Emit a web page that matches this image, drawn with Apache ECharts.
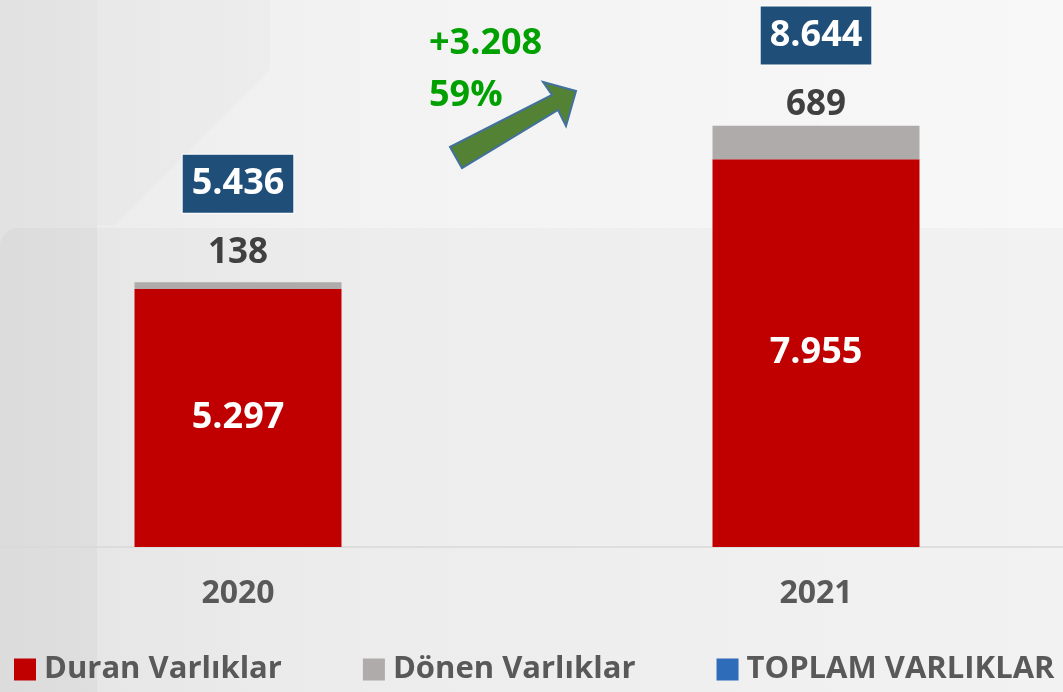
<!DOCTYPE html>
<html>
<head>
<meta charset="utf-8">
<script src="https://cdn.jsdelivr.net/npm/echarts@6/dist/echarts.min.js"></script>
<style>
  html, body { margin: 0; padding: 0; }
  #chart { width: 1063px; height: 692px; }
</style>
</head>
<body>
<div id="chart"></div>
<script>
  // veriler
  var years = ['2020', '2021'];
  var duran = [5297, 7955];
  var donen = [138, 689];
  var toplam = [5436, 8644];
  var seriesNames = ['Duran Varlıklar', 'Dönen Varlıklar', 'TOPLAM VARLIKLAR'];

  var FONT = '"Open Sans", "Noto Sans", sans-serif';

  function fmt(n) {
    return String(n).replace(/\B(?=(\d{3})+(?!\d))/g, '.');
  }

  var diff = toplam[1] - toplam[0];
  var pct = Math.round(diff / toplam[0] * 100);

  var chart = echarts.init(document.getElementById('chart'));

  var option = {
    backgroundColor: {
      type: 'linear', x: 0, y: 0, x2: 1, y2: 0,
      colorStops: [
        { offset: 0, color: '#eaeaea' },
        { offset: 0.3, color: '#f2f2f2' },
        { offset: 1, color: '#f8f8f8' }
      ]
    },
    animation: false,
    graphic: [
      // arka plan şekilleri
      { type: 'rect', z: -10, shape: { x: 0, y: 0, width: 97, height: 692 },
        style: { fill: 'rgba(0,0,0,0.03)' } },
      { type: 'polygon', z: -10,
        shape: { points: [[97, 0], [270, 0], [270, 70], [115, 225], [97, 225]] },
        style: { fill: 'rgba(0,0,0,0.015)' } },
      { type: 'rect', z: -10, shape: { x: 0, y: 228, width: 1063, height: 464, r: [18, 0, 0, 0] },
        style: { fill: 'rgba(0,0,0,0.025)' } },
      // eksen çizgisi
      { type: 'line', z: 1, shape: { x1: 0, y1: 547, x2: 1063, y2: 547 },
        style: { stroke: '#d9d9d9', lineWidth: 1.5 } },
      // ok
      { type: 'polygon', z: 10,
        shape: { points: [[450, 147], [552, 95], [543, 82], [576, 91], [566, 126], [558, 110], [462, 168]] },
        style: { fill: '#548235', stroke: '#41719c', lineWidth: 2 } },
      { type: 'text', z: 10, left: 429, top: 26,
        style: { text: '+' + fmt(diff), fill: '#00a000', font: 'bold 36px ' + FONT } },
      { type: 'text', z: 10, left: 429, top: 78,
        style: { text: pct + '%', fill: '#00a000', font: 'bold 36px ' + FONT } }
    ],
    grid: { left: 238, right: 247, top: 11, bottom: 145 },
    legend: {
      left: 14,
      top: 654,
      padding: 0,
      icon: 'rect',
      itemWidth: 22,
      itemHeight: 22,
      itemGap: 81,
      data: seriesNames,
      textStyle: {
        color: '#595959', fontFamily: FONT, fontWeight: 'bold', fontSize: 31,
        padding: [0, 0, 0, 3]
      }
    },
    xAxis: {
      type: 'category',
      data: years,
      boundaryGap: false,
      axisLine: { show: false },
      axisTick: { show: false },
      axisLabel: {
        margin: 31, color: '#595959', fontFamily: FONT, fontWeight: 'bold',
        fontSize: 32, lineHeight: 32
      }
    },
    yAxis: {
      type: 'value', min: 0, max: 11000,
      show: false,
      splitLine: { show: false }
    },
    series: [
      {
        name: seriesNames[0], type: 'bar', stack: 'v', barWidth: 207, clip: false,
        itemStyle: { color: '#c00000' },
        label: {
          show: true, position: 'inside', color: '#ffffff', fontFamily: FONT,
          fontWeight: 'bold', fontSize: 36, formatter: function (p) { return fmt(p.value); }
        },
        data: duran
      },
      {
        name: seriesNames[1], type: 'bar', stack: 'v', barWidth: 207, clip: false,
        itemStyle: { color: '#afabab' },
        label: {
          show: true, position: 'top', color: '#404040', fontFamily: FONT,
          fontWeight: 'bold', fontSize: 35, lineHeight: 35,
          formatter: function (p) { return fmt(p.value); }
        },
        data: donen.map(function (v, i) {
          return { value: v, label: { distance: i === 0 ? 12 : 3 } };
        })
      },
      {
        name: seriesNames[2], type: 'line', symbol: 'circle', symbolSize: 0.5, z: 1,
        clip: false,
        itemStyle: { color: '#2e6bb8' },
        lineStyle: { width: 0, opacity: 0 },
        label: {
          show: true, position: 'top', color: '#ffffff', fontFamily: FONT,
          fontWeight: 'bold', fontSize: 36, lineHeight: 36,
          backgroundColor: '#1f4e79', borderColor: '#ffffff', borderWidth: 1,
          padding: [11, 9, 11, 9],
          formatter: function (p) { return fmt(p.value); }
        },
        data: toplam.map(function (v, i) {
          return { value: v, label: { distance: i === 0 ? 69 : 61 } };
        })
      }
    ]
  };

  chart.setOption(option);
</script>
</body>
</html>
